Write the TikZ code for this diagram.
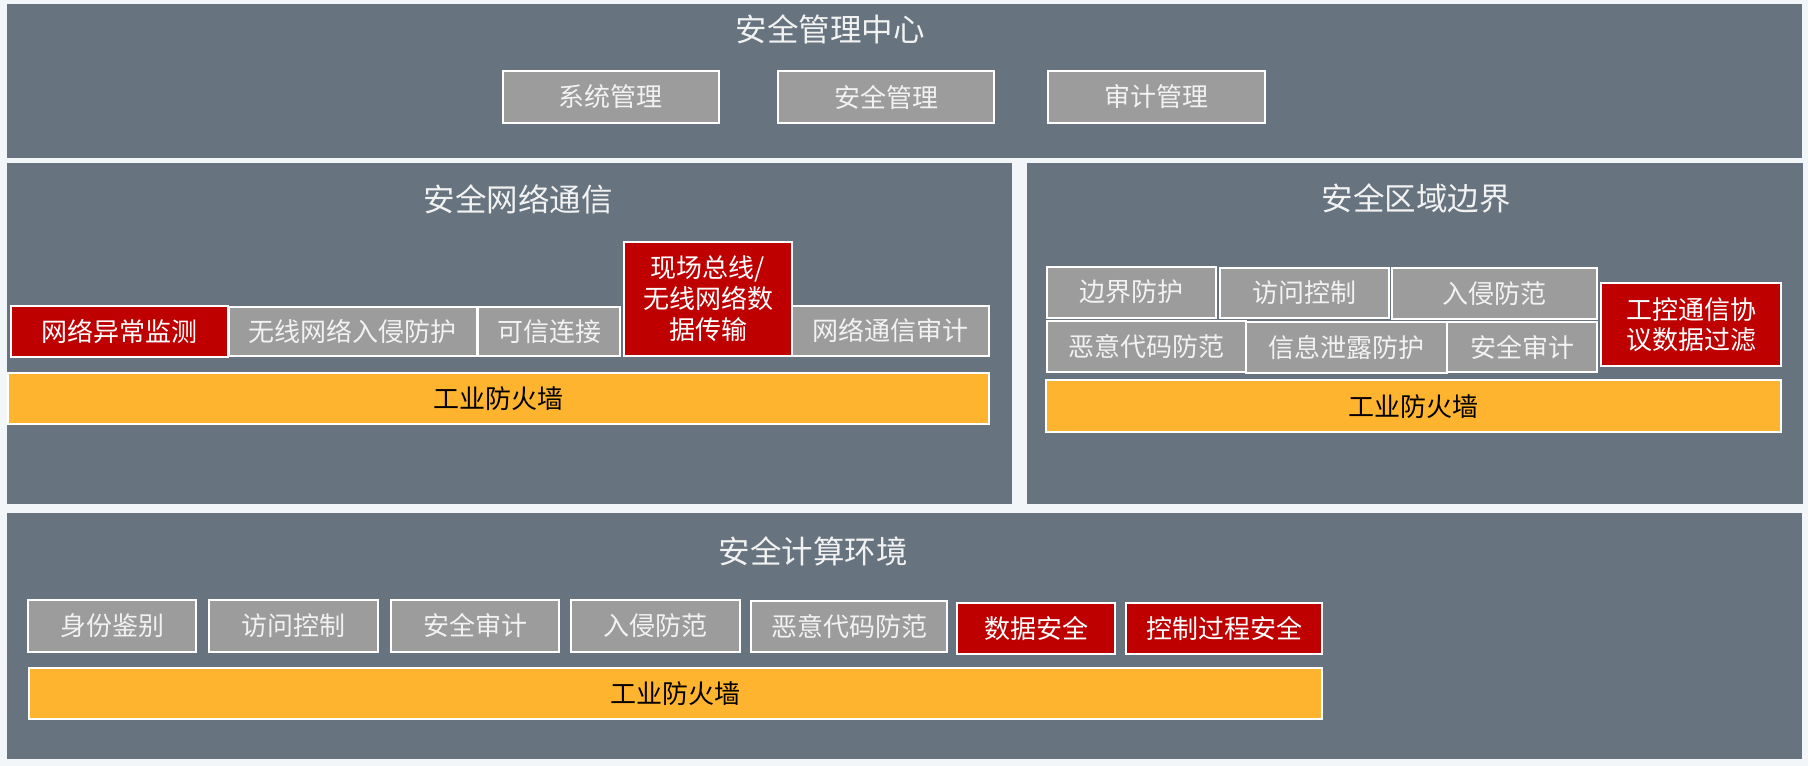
\documentclass[tikz,border=0pt]{standalone}
\usepackage{fontspec}
\setmainfont{Noto Sans CJK SC}
\definecolor{bgc}{HTML}{F3F6F8}
\definecolor{panelc}{HTML}{67737F}
\definecolor{grayc}{HTML}{9C9C9C}
\definecolor{redc}{HTML}{BE0000}
\definecolor{orangec}{HTML}{FFB42F}
\definecolor{txtc}{HTML}{F2F2F2}
\tikzset{
  panel/.style={fill=panelc, draw=none, inner sep=0pt},
  ptitle/.style={text=txtc, font=\fontsize{31.5}{35}\selectfont, inner sep=0pt},
  graybox/.style={fill=grayc, draw=white, line width=2pt, text=txtc, inner sep=0pt,
    font=\fontsize{26}{31}\selectfont, align=center},
  redbox/.style={graybox, fill=redc, text=white},
  firebox/.style={graybox, fill=orangec, text=black},
}
\begin{document}
\begin{tikzpicture}[x=1pt,y=-1pt]
\fill[bgc] (0,0) rectangle (1808,766);
\useasboundingbox (0,0) rectangle (1808,766);
% panels
\node[panel, minimum width=1795pt, minimum height=153.5pt] (ptop) at (904.5,80.75) {};
\node[panel, minimum width=1005pt, minimum height=341.3pt] (pnet) at (509.5,333.35) {};
\node[panel, minimum width=775.5pt, minimum height=341.3pt] (pbnd) at (1414.75,333.35) {};
\node[panel, minimum width=1795pt, minimum height=246.6pt] (pcmp) at (904.5,636) {};
% titles
\node[ptitle] (ttop) at (830,29) {安全管理中心};
\node[ptitle] (tnet) at (518,199.5) {安全网络通信};
\node[ptitle] (tbnd) at (1416,198.5) {安全区域边界};
\node[ptitle] (tcmp) at (813,551.7) {安全计算环境};
% top boxes
\node[graybox, minimum width=216pt, minimum height=52pt] (sys) at (610.5,97) {系统管理};
\node[graybox, minimum width=216pt, minimum height=52pt] (aqgl) at (886,97) {安全管理};
\node[graybox, minimum width=217pt, minimum height=52pt] (sjgl) at (1156.5,97) {审计管理};
% network communication
\node[redbox, minimum width=217pt, minimum height=51.3pt] (wlyc) at (119.2,331.35) {网络异常监测};
\node[graybox, minimum width=248pt, minimum height=49pt] (wxrq) at (352.5,331.2) {无线网络入侵防护};
\node[graybox, minimum width=142.7pt, minimum height=49pt] (kxlj) at (549,331.2) {可信连接};
\node[redbox, minimum width=168.6pt, minimum height=114pt] (xczx) at (708,298.7) {现场总线/\\无线网络数\\据传输};
\node[graybox, minimum width=197pt, minimum height=50pt] (wlsj) at (890.8,330.7) {网络通信审计};
\node[firebox, minimum width=981.6pt, minimum height=51pt] (fw1) at (498.5,398.5) {工业防火墙};
% boundary
\node[graybox, minimum width=169.4pt, minimum height=51pt] (bjfh) at (1131.3,292.2) {边界防护};
\node[graybox, minimum width=169pt, minimum height=50pt] (fwkz) at (1304.5,292.7) {访问控制};
\node[graybox, minimum width=205pt, minimum height=51.3pt] (rqff) at (1494.5,293.3) {入侵防范};
\node[graybox, minimum width=199pt, minimum height=50.7pt] (eydm) at (1146.1,346.35) {恶意代码防范};
\node[graybox, minimum width=201.4pt, minimum height=50.4pt] (xxxl) at (1346.3,347.5) {信息泄露防护};
\node[graybox, minimum width=150pt, minimum height=49.4pt] (aqsj) at (1522,347) {安全审计};
\node[redbox, minimum width=180pt, minimum height=83.3pt, font=\fontsize{26}{30}\selectfont] (gktx) at (1691,324.35) {工控通信协\\议数据过滤};
\node[firebox, minimum width=735.4pt, minimum height=52.3pt] (fw2) at (1413.3,406.15) {工业防火墙};
% computing environment
\node[graybox, minimum width=168.7pt, minimum height=51.7pt] (sfjb) at (112,625.85) {身份鉴别};
\node[graybox, minimum width=169.2pt, minimum height=51.7pt] (fwkz2) at (293.1,625.85) {访问控制};
\node[graybox, minimum width=168.8pt, minimum height=51.7pt] (aqsj2) at (475,625.85) {安全审计};
\node[graybox, minimum width=168.9pt, minimum height=51.7pt] (rqff2) at (655.85,625.85) {入侵防范};
\node[graybox, minimum width=196pt, minimum height=51.3pt] (eydm2) at (849.4,626.65) {恶意代码防范};
\node[redbox, minimum width=158.1pt, minimum height=51.6pt] (sjaq) at (1036.25,628.5) {数据安全};
\node[redbox, minimum width=196pt, minimum height=51pt] (kzgc) at (1224.4,628.2) {控制过程安全};
\node[firebox, minimum width=1293.8pt, minimum height=51.8pt] (fw3) at (675.5,693.4) {工业防火墙};
\end{tikzpicture}
\end{document}
